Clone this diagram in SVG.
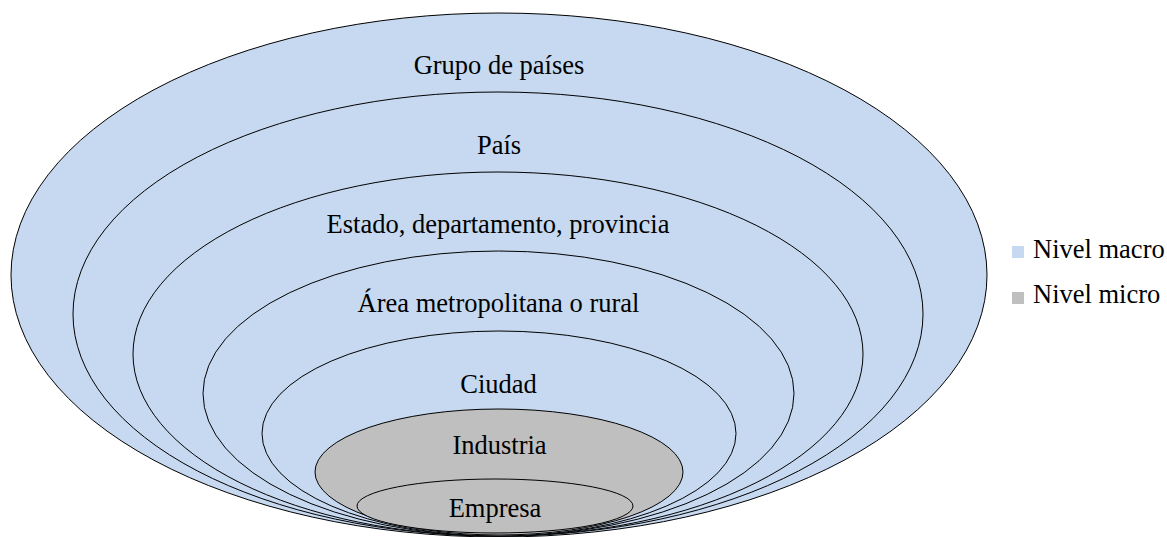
<svg xmlns="http://www.w3.org/2000/svg" width="1167" height="537" viewBox="0 0 1167 537">
<style>
.macro{fill:#C6D9F0;stroke:#000;stroke-width:1}
.micro{fill:#BFBFBF;stroke:#000;stroke-width:1}
text{font-family:"Liberation Serif","Times New Roman",serif;font-size:26.5px;fill:#000}
.c{text-anchor:middle}
</style>
<rect width="1167" height="537" fill="#fff"/>
<g id="grupo"><ellipse class="macro" cx="499" cy="275" rx="488" ry="262"/><text class="c" x="499" y="74">Grupo de países</text></g>
<g id="pais"><ellipse class="macro" cx="498" cy="314" rx="425" ry="222"/><text class="c" x="499" y="154">País</text></g>
<g id="estado"><ellipse class="macro" cx="498" cy="354" rx="365" ry="182"/><text class="c" x="498" y="233">Estado, departamento, provincia</text></g>
<g id="area"><ellipse class="macro" cx="498.5" cy="393.5" rx="295.5" ry="142.5"/><text class="c" x="498.5" y="312">Área metropolitana o rural</text></g>
<g id="ciudad"><ellipse class="macro" cx="499" cy="433.5" rx="237" ry="102.5"/><text class="c" x="498.5" y="393">Ciudad</text></g>
<g id="industria"><ellipse class="micro" cx="499" cy="472" rx="184" ry="63"/><text class="c" x="499.5" y="454">Industria</text></g>
<g id="empresa"><ellipse class="micro" cx="495" cy="506" rx="138" ry="27"/><text class="c" x="495" y="517">Empresa</text></g>
<g id="legend">
<rect x="1012" y="246" width="12" height="12" fill="#C6D9F0"/><text x="1033" y="258">Nivel macro</text>
<rect x="1012" y="292" width="12" height="12" fill="#BFBFBF"/><text x="1033" y="303">Nivel micro</text>
</g>
<g id="connectors"/>
</svg>
